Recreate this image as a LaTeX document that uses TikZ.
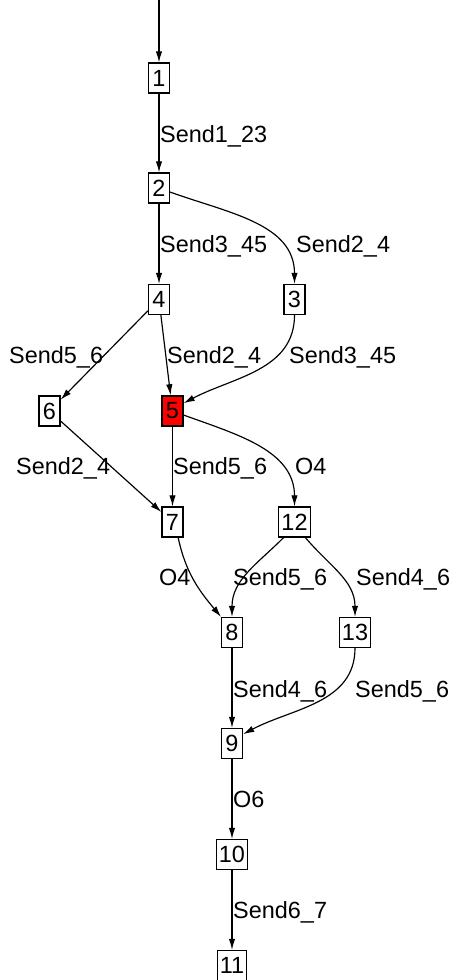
\documentclass[tikz,border=0pt]{standalone}
\usepackage{fontspec}
\setmainfont{Liberation Sans}
\usetikzlibrary{arrows.meta}
\tikzstyle{state_node}=[rectangle, draw, line width=1pt, minimum width=0.63cm, minimum height=0.9cm, inner xsep=0.08cm, inner ysep=0pt, font=\fontsize{20}{23}\selectfont]
\tikzstyle{state_current}=[state_node, fill=red]
\tikzstyle{transition_label}=[anchor=base west, inner sep=0pt, font=\fontsize{20}{23}\selectfont]
\tikzstyle{transition}=[-{Latex[length=9.5pt,width=5.5pt]}, line width=1pt]

\begin{document}
\begin{tikzpicture}[x=0.03cm,y=0.03cm]

            \useasboundingbox (0,0) rectangle (450,-980);

            % States
            \node[state_node] (state1) at (159,-78) {1};
            \node[state_node] (state2) at (159,-188) {2};
            \node[state_node] (state4) at (159,-299.5) {4};
            \node[state_node] (state3) at (294.5,-299.5) {3};
            \node[state_node] (state6) at (49.5,-411) {6};
            \node[state_current] (state5) at (172.5,-411) {5};
            \node[state_node] (state7) at (172.5,-522) {7};
            \node[state_node] (state12) at (294.5,-522) {12};
            \node[state_node] (state8) at (232,-632.5) {8};
            \node[state_node] (state13) at (355,-632.5) {13};
            \node[state_node] (state9) at (232,-743.5) {9};
            \node[state_node] (state10) at (232,-854.5) {10};
            \node[state_node] (state11) at (232,-965.5) {11};

            % Transition labels
            \node[transition_label] (label_1_2) at (160,-142) {Send1\_23};
            \node[transition_label] (label_2_4) at (160,-252) {Send3\_45};
            \node[transition_label] (label_2_3) at (296,-252) {Send2\_4};
            \node[transition_label] (label_4_6) at (9,-363) {Send5\_6};
            \node[transition_label] (label_4_5) at (167,-363) {Send2\_4};
            \node[transition_label] (label_3_5) at (289,-363) {Send3\_45};
            \node[transition_label] (label_6_7) at (16,-474) {Send2\_4};
            \node[transition_label] (label_5_7) at (173,-474) {Send5\_6};
            \node[transition_label] (label_5_12) at (295,-474) {O4};
            \node[transition_label] (label_7_8) at (159,-585) {O4};
            \node[transition_label] (label_12_8) at (233,-585) {Send5\_6};
            \node[transition_label] (label_12_13) at (356,-585) {Send4\_6};
            \node[transition_label] (label_8_9) at (233,-697) {Send4\_6};
            \node[transition_label] (label_13_9) at (355,-697) {Send5\_6};
            \node[transition_label] (label_9_10) at (233,-807) {O6};
            \node[transition_label] (label_10_11) at (233,-918) {Send6\_7};

            % Initial arrow
            \coordinate (entry) at (159,0);
            \draw[transition] (entry) -- (state1);

            % Transitions
            \draw[transition] (state1) -- (state2);
            \draw[transition] (state2) -- (state4);
            \draw[transition] (state2.-20) to[out=-20,in=90] (state3.north);
            \draw[transition] (state4) -- (state6);
            \draw[transition] (state4) -- (state5);
            \draw[transition] (state3.south) to[out=-90,in=28] (state5.35);
            \draw[transition] (state6) -- (state7);
            \draw[transition] (state5) -- (state7);
            \draw[transition] (state5.-20) to[out=-20,in=90] (state12.north);
            \draw[transition] (state7.-70) to[out=-78,in=130] (state8.125);
            \draw[transition] (state12.-125) to[out=-135,in=90] (state8.north);
            \draw[transition] (state12.-55) to[out=-50,in=90] (state13.north);
            \draw[transition] (state8) -- (state9);
            \draw[transition] (state13.south) to[out=-90,in=28] (state9.40);
            \draw[transition] (state9) -- (state10);
            \draw[transition] (state10) -- (state11);

        \end{tikzpicture}
\end{document}
